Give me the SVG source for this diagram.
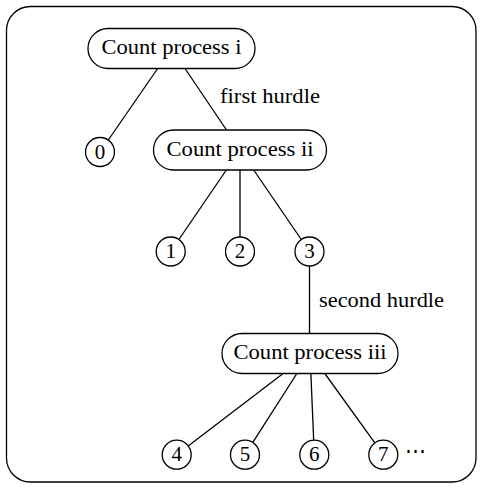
<svg xmlns="http://www.w3.org/2000/svg" width="482" height="488" viewBox="0 0 482 488">
<style>
.frame{fill:none;stroke:#000;stroke-width:1.3}
.box{fill:#fff;stroke:#000;stroke-width:1.3}
.edge{stroke:#000;stroke-width:1.3;fill:none}
</style>
<rect width="482" height="488" fill="#fff"/>
<rect class="frame" x="6.5" y="6.5" width="469.5" height="475.5" rx="24" ry="24"/>
<g id="connectors">
<line class="edge" x1="171.5" y1="48.5" x2="100" y2="152"/>
<line class="edge" x1="171.5" y1="48.5" x2="240" y2="150"/>
<line class="edge" x1="240" y1="150" x2="170.7" y2="251.5"/>
<line class="edge" x1="240" y1="150" x2="240" y2="251.5"/>
<line class="edge" x1="240" y1="150" x2="309.5" y2="251.5"/>
<line class="edge" x1="309.5" y1="251.5" x2="309.5" y2="353"/>
<line class="edge" x1="310" y1="353" x2="176.7" y2="454.7"/>
<line class="edge" x1="310" y1="353" x2="245" y2="454.7"/>
<line class="edge" x1="310" y1="353" x2="314.3" y2="454.7"/>
<line class="edge" x1="310" y1="353" x2="383.3" y2="454.7"/>
<text font-family="Liberation Serif" font-size="20" x="220" y="103" textLength="100" lengthAdjust="spacingAndGlyphs">first hurdle</text>
<text font-family="Liberation Serif" font-size="20" x="319" y="307" textLength="125" lengthAdjust="spacingAndGlyphs">second hurdle</text>
</g>
<g id="cp1">
<rect class="box" x="88" y="28.5" width="167" height="40" rx="20" ry="20"/>
<text font-family="Liberation Serif" font-size="21" text-anchor="middle" x="171.5" y="54" textLength="140" lengthAdjust="spacingAndGlyphs">Count process i</text>
</g>
<g id="n0">
<circle class="box" cx="100" cy="152" r="14.5"/>
<text font-family="Liberation Serif" font-size="21" text-anchor="middle" x="100" y="158.5">0</text>
</g>
<g id="cp2">
<rect class="box" x="153.5" y="130" width="173" height="40" rx="20" ry="20"/>
<text font-family="Liberation Serif" font-size="21" text-anchor="middle" x="240" y="155.5" textLength="147" lengthAdjust="spacingAndGlyphs">Count process ii</text>
</g>
<g id="n1">
<circle class="box" cx="170.7" cy="251.5" r="14.5"/>
<text font-family="Liberation Serif" font-size="21" text-anchor="middle" x="170.7" y="258">1</text>
</g>
<g id="n2">
<circle class="box" cx="240" cy="251.5" r="14.5"/>
<text font-family="Liberation Serif" font-size="21" text-anchor="middle" x="240" y="258">2</text>
</g>
<g id="n3">
<circle class="box" cx="309.5" cy="251.5" r="14.5"/>
<text font-family="Liberation Serif" font-size="21" text-anchor="middle" x="309.5" y="258">3</text>
</g>
<g id="cp3">
<rect class="box" x="222" y="333.5" width="176" height="40" rx="20" ry="20"/>
<text font-family="Liberation Serif" font-size="21" text-anchor="middle" x="310" y="359" textLength="153" lengthAdjust="spacingAndGlyphs">Count process iii</text>
</g>
<g id="n4">
<circle class="box" cx="176.7" cy="454.7" r="14.5"/>
<text font-family="Liberation Serif" font-size="21" text-anchor="middle" x="176.7" y="461.2">4</text>
</g>
<g id="n5">
<circle class="box" cx="245" cy="454.7" r="14.5"/>
<text font-family="Liberation Serif" font-size="21" text-anchor="middle" x="245" y="461.2">5</text>
</g>
<g id="n6">
<circle class="box" cx="314.3" cy="454.7" r="14.5"/>
<text font-family="Liberation Serif" font-size="21" text-anchor="middle" x="314.3" y="461.2">6</text>
</g>
<g id="n7">
<circle class="box" cx="383.3" cy="454.7" r="14.5"/>
<text font-family="Liberation Serif" font-size="21" text-anchor="middle" x="383.3" y="461.2">7</text>
</g>
<text font-family="Liberation Serif" font-size="21" x="405" y="458">⋯</text>
</svg>
